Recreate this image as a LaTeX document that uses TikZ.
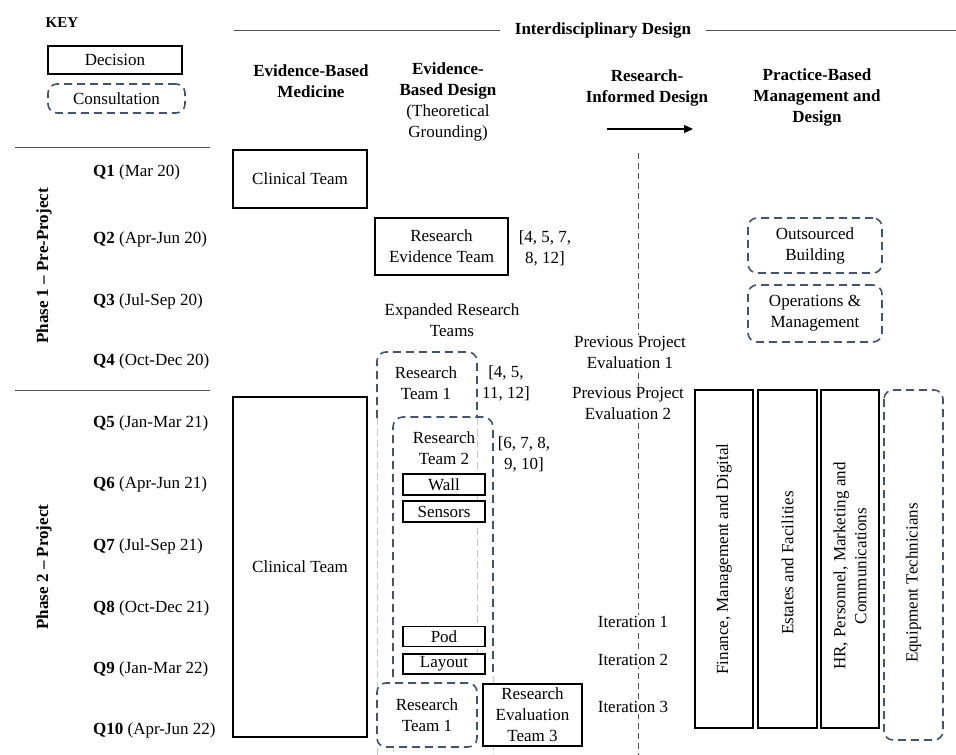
\documentclass[tikz,border=0pt]{standalone}
\usepackage{fontspec}
\setmainfont{Liberation Serif}
\usetikzlibrary{arrows.meta}
\definecolor{consult}{HTML}{44546A}
\definecolor{faint}{HTML}{C4C8CE}
\definecolor{rule}{HTML}{505050}
\begin{document}
\begin{tikzpicture}[x=1pt,y=-1pt,
  every node/.style={font=\fontsize{17}{21}\selectfont, inner sep=0pt, align=center},
  decision/.style={draw=black, line width=1.6pt, fill=white},
  consultline/.style={draw=consult, line width=1.6pt, dash pattern=on 8pt off 5pt},
  consultbox/.style={consultline, rounded corners=9pt, fill=white},
  faintline/.style={draw=faint, line width=1pt, dash pattern=on 7pt off 4pt},
  midline/.style={draw=rule, line width=1pt, dash pattern=on 6pt off 4pt},
  hdr/.style={font=\fontsize{17}{21}\selectfont\bfseries},
  qlab/.style={anchor=west},
  ruleline/.style={draw=rule, line width=1pt},
  blank/.style={fill=white, inner sep=1pt}
]
\useasboundingbox[fill=white] (0,0) rectangle (956,755);

% ---------- key ----------
\node[font=\fontsize{15}{18}\selectfont\bfseries] (key) at (62,23) {KEY};
\node[decision, minimum width=134pt, minimum height=28pt] (keydec) at (115,60) {Decision};
\node[consultbox, minimum width=137pt, minimum height=29pt] (keycon) at (116.5,98.5) {Consultation};

% ---------- top rule ----------
\coordinate (tl) at (234,30);
\coordinate (tr) at (956,30);
\node[hdr, inner xsep=15pt] (interd) at (603,30) {Interdisciplinary Design};
\draw[ruleline] (tl) -- (interd.west);
\draw[ruleline] (interd.east) -- (tr);

% ---------- column headers ----------
\node[hdr] (ebm) at (311,81.5) {Evidence-Based\\Medicine};
\node (ebd) at (448,102) {\textbf{Evidence-}\\\textbf{Based Design}\\(Theoretical\\Grounding)};
\node[hdr] (rid) at (647,87.5) {Research-\\Informed Design};
\node[hdr] (pbmd) at (817,97) {Practice-Based\\Management and\\Design};
\coordinate (arrA) at (607,129);
\coordinate (arrB) at (693,129);
\draw[line width=1.2pt, -{Triangle[length=9pt,width=8pt]}] (arrA) -- (arrB);

% ---------- phases ----------
\coordinate (p1a) at (15,147);  \coordinate (p1b) at (210,147);
\coordinate (p2a) at (15,390);  \coordinate (p2b) at (210,390);
\draw[ruleline] (p1a) -- (p1b);
\draw[ruleline] (p2a) -- (p2b);
\node[hdr, rotate=90] (ph1) at (44,266) {Phase 1 -- Pre-Project};
\node[hdr, rotate=90] (ph2) at (44,567) {Phase 2 -- Project};

\node[qlab] (q1) at (93,172) {\textbf{Q1} (Mar 20)};
\node[qlab] (q2) at (93,239) {\textbf{Q2} (Apr-Jun 20)};
\node[qlab] (q3) at (93,301) {\textbf{Q3} (Jul-Sep 20)};
\node[qlab] (q4) at (93,361) {\textbf{Q4} (Oct-Dec 20)};
\node[qlab] (q5) at (93,423) {\textbf{Q5} (Jan-Mar 21)};
\node[qlab] (q6) at (93,484) {\textbf{Q6} (Apr-Jun 21)};
\node[qlab] (q7) at (93,546) {\textbf{Q7} (Jul-Sep 21)};
\node[qlab] (q8) at (93,608) {\textbf{Q8} (Oct-Dec 21)};
\node[qlab] (q9) at (93,669) {\textbf{Q9} (Jan-Mar 22)};
\node[qlab] (q10) at (93,730) {\textbf{Q10} (Apr-Jun 22)};

% ---------- evidence-based medicine ----------
\node[decision, minimum width=134pt, minimum height=58pt] (clin1) at (300,179) {Clinical Team};
\node[decision, minimum width=134pt, minimum height=340pt] (clin2) at (300,567) {Clinical Team};

% ---------- evidence-based design ----------
\node[decision, minimum width=133pt, minimum height=57pt] (ret) at (441.5,246.5) {Research\\Evidence Team};
\node (ref1) at (545,248.5) {[4, 5, 7,\\8, 12]};
\node (expanded) at (452,320.5) {Expanded Research\\Teams};

% faint continuation lines of research team 1
\coordinate (f1a) at (377,418); \coordinate (f1b) at (377,755);
\coordinate (f2a) at (477,418); \coordinate (f2b) at (477,654);
\coordinate (f3a) at (393,745); \coordinate (f3b) at (393,755);
\coordinate (f4a) at (493,677); \coordinate (f4b) at (493,755);
\draw[faintline] (f1a) -- (f1b);
\draw[faintline] (f2a) -- (f2b);
\draw[faintline] (f3a) -- (f3b);
\draw[faintline] (f4a) -- (f4b);

% research team 1 (top)
\draw[consultline, rounded corners=9pt] (377,418) -- (377,352) -- (477,352) -- (477,418);
\node (rt1a) at (426,383) {Research\\Team 1};
\node (ref2) at (506,383) {[4, 5,\\11, 12]};

% research team 2
\draw[consultline, rounded corners=10pt] (393,677) -- (393,417) -- (493,417) -- (493,677);
\node (rt2) at (444,448) {Research\\Team 2};
\node (ref3) at (524,454) {[6, 7, 8,\\9, 10]};

\node[decision, line width=1.4pt, minimum width=82pt, minimum height=21pt] (wall) at (444,484.5) {Wall};
\node[decision, line width=1.4pt, minimum width=82pt, minimum height=21pt] (sensors) at (444,511.5) {Sensors};
\node[decision, line width=1.4pt, minimum width=82pt, minimum height=20pt] (pod) at (444,636.5) {Pod};
\node[decision, line width=1.4pt, minimum width=82pt, minimum height=20pt] (layout) at (444,664) {Layout};

\node[consultbox, minimum width=100pt, minimum height=64pt] (rt1b) at (427,715) {Research\\Team 1};
\node[decision, minimum width=99pt, minimum height=62pt] (ret3) at (532.5,715) {Research\\Evaluation\\Team 3};

% ---------- research-informed design ----------
\coordinate (mtop) at (638,153);
\coordinate (mbot) at (638,755);
\draw[midline] (mtop) -- (mbot);
\node[blank] (ppe1) at (630,352.5) {Previous Project\\Evaluation 1};
\node[blank] (ppe2) at (628,403) {Previous Project\\Evaluation 2};
\node[blank] (it1) at (633,622) {Iteration 1};
\node[blank] (it2) at (633,660) {Iteration 2};
\node[blank] (it3) at (633,707) {Iteration 3};

% ---------- practice-based ----------
\node[consultbox, minimum width=134pt, minimum height=55pt] (outs) at (815,245.5) {Outsourced\\Building};
\node[consultbox, minimum width=134pt, minimum height=57pt] (ops) at (815,313.5) {Operations \&\\Management};

\node[decision, rotate=90, minimum width=338pt, minimum height=58pt] (fin) at (724,559) {Finance, Management and Digital};
\node[decision, rotate=90, minimum width=338pt, minimum height=59pt] (est) at (787.5,559) {Estates and Facilities\hspace*{8pt}};
\node[decision, rotate=90, minimum width=338pt, minimum height=58pt] (hr) at (850,559) {HR, Personnel, Marketing and\hspace*{14pt}\\Communications\hspace*{14pt}};
\node[consultbox, rotate=90, minimum width=350pt, minimum height=59pt] (equip) at (913.5,565) {Equipment Technicians\hspace*{36pt}};
\end{tikzpicture}
\end{document}
